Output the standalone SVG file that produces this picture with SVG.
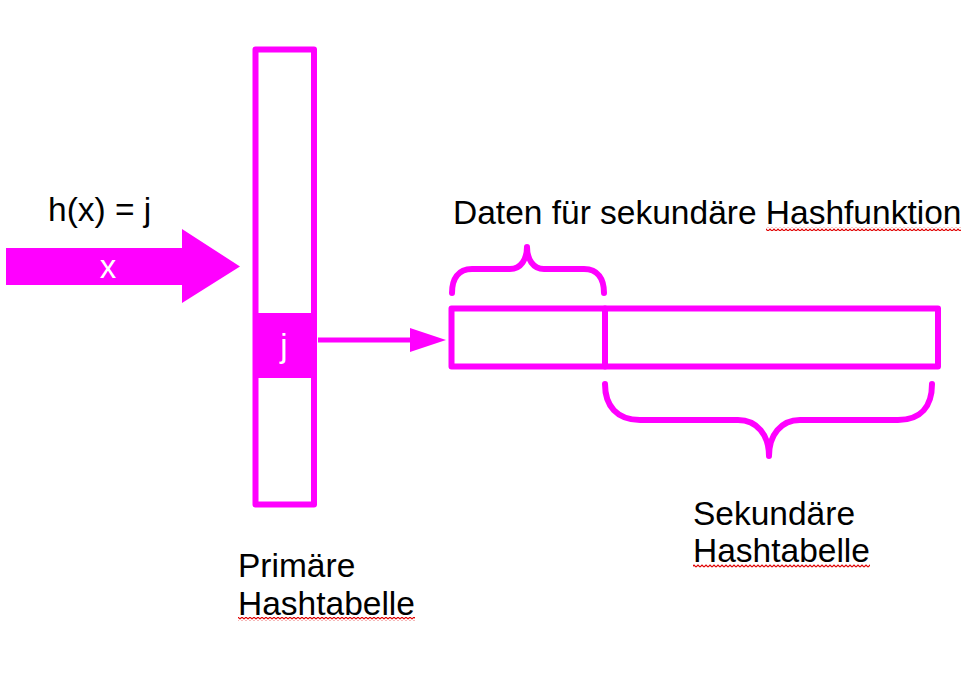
<svg xmlns="http://www.w3.org/2000/svg" width="976" height="680" viewBox="0 0 976 680">
<style>
.s{fill:none;stroke:#FF00FF;stroke-width:6;stroke-linejoin:round;stroke-linecap:round}
.f{fill:#FF00FF}
.t{font-family:"Liberation Sans",Arial,sans-serif;font-size:33.5px;fill:#000}
.w{font-family:"Liberation Sans",Arial,sans-serif;font-size:33px;fill:#fff;text-anchor:middle}
</style>
<defs>
<pattern id="sq" width="4" height="4" patternUnits="userSpaceOnUse">
<path d="M0,3 L2,1 L4,3" fill="none" stroke="#e00000" stroke-width="1.1"/>
</pattern>
</defs>
<rect width="976" height="680" fill="#fff"/>
<g id="input-arrow">
<polygon class="f" points="6,248 182,248 182,229 240,266.5 182,303 182,285 6,285"/>
<text class="w" x="108" y="278">x</text>
</g>
<g id="hash-label">
<text class="t" x="48" y="221">h(x) = j</text>
</g>
<g id="primary-table">
<rect class="s" x="255.5" y="49.5" width="58.5" height="455"/>
<rect class="f" x="253" y="313" width="64" height="65"/>
<text class="w" x="284" y="357">j</text>
</g>
<g id="primary-label">
<text class="t" x="238" y="577">Primäre</text>
<text class="t" x="238" y="615">Hashtabelle</text>
<rect x="238" y="617" width="177" height="4" fill="url(#sq)"/>
</g>
<g id="connectors">
<line x1="318" y1="340" x2="412" y2="340" stroke="#FF00FF" stroke-width="5"/>
<polygon class="f" points="410,328 446,340 410,352"/>
</g>
<g id="secondary-table">
<rect class="s" x="451.5" y="308.5" width="486.5" height="58"/>
<line class="s" x1="605" y1="308.5" x2="605" y2="366.5"/>
</g>
<g id="data-brace">
<path class="s" d="M452,293 C452,279 458,269 472,269 L510,269 C521,269 527,259 527,247 C527,259 533,269 544,269 L584,269 C598,269 604,279 604,293"/>
<text class="t" x="453" y="224">Daten für sekundäre Hashfunktion</text>
<rect x="766" y="227" width="195" height="4" fill="url(#sq)"/>
</g>
<g id="secondary-brace">
<path class="s" d="M605,384 C605,406 617,420 640,420 L738,420 C757,420 769,435 769,456 C769,435 781,420 800,420 L898,420 C921,420 932,406 932,384"/>
<text class="t" x="693" y="525">Sekundäre</text>
<text class="t" x="693" y="562">Hashtabelle</text>
<rect x="693" y="564" width="177" height="4" fill="url(#sq)"/>
</g>
</svg>
